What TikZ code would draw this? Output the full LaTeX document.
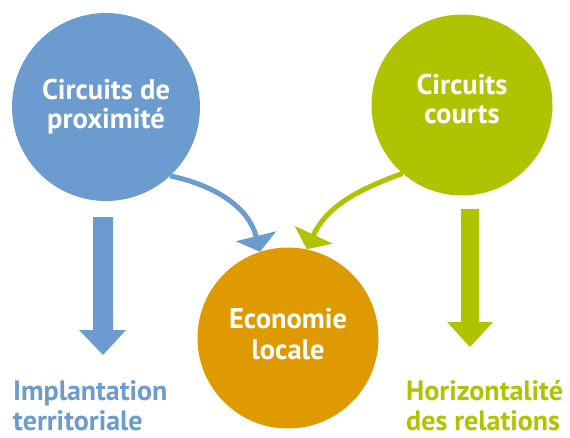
\documentclass[tikz,border=0pt]{standalone}
\usepackage{fontspec}
\setmainfont{PT Sans}
\usetikzlibrary{arrows.meta}
\definecolor{cblue}{HTML}{6C9BCF}
\definecolor{cgreen}{HTML}{AFC300}
\definecolor{corange}{HTML}{DE9A00}
\tikzset{
  bubble/.style={circle, inner sep=0pt, text=white, align=center,
    font=\bfseries\fontsize{28.5}{29}\selectfont},
  lbl/.style={align=left, inner sep=0pt, font=\bfseries\fontsize{28}{30}\selectfont},
  curvearrow/.style={line width=5pt, -{Triangle[width=41pt,length=16pt]}},
}
\begin{document}
\begin{tikzpicture}[x=1pt,y=-1pt]
\useasboundingbox (0,0) rectangle (570,437);
\node[bubble, fill=cblue, minimum size=188pt] (prox) at (106,107) {Circuits de\\proximité};
\node[bubble, fill=cgreen, minimum size=181pt, text depth=12pt] (courts) at (462,105) {Circuits\\courts};
\node[bubble, fill=corange, minimum size=181pt, text depth=9pt,
  font=\bfseries\fontsize{28.5}{31}\selectfont] (eco) at (288,338) {Economie\\locale};
% block arrows
\fill[cblue] (93,217) -- (113,217) -- (113,330) -- (126,330) -- (103,355) -- (79,330) -- (93,330) -- cycle;
\fill[cgreen] (461,209) -- (479,209) -- (479,322) -- (493,322) -- (470,347) -- (447,322) -- (461,322) -- cycle;
% curved arrows
\draw[curvearrow, cblue] (prox.-47) to[out=-12, in=104] (eco.108);
\draw[curvearrow, cgreen] (courts.-131) to[out=-160, in=65] (eco.78);
% labels
\node[lbl, text=cblue, anchor=base west] (impl) at (13,430.5) {Implantation\\territoriale};
\node[lbl, text=cgreen, anchor=base west] (horiz) at (406,430.5) {Horizontalité\\des relations};
\end{tikzpicture}
\end{document}
